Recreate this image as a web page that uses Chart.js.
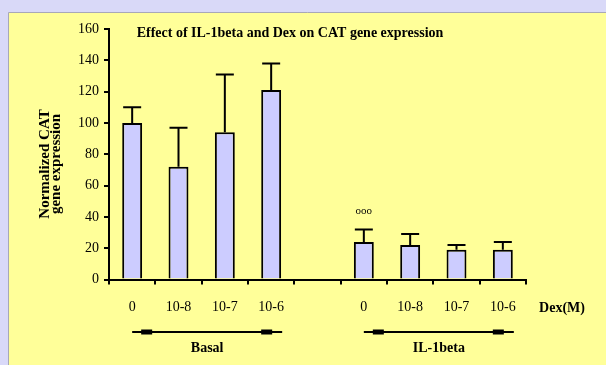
<!DOCTYPE html>
<html>
<head>
<meta charset="utf-8">
<script src="https://cdn.jsdelivr.net/npm/chart.js@4/dist/chart.umd.min.js"></script>
<style>
  html, body { margin: 0; padding: 0; background: #d9d9f8; }
  #wrap { width: 606px; height: 365px; }
</style>
</head>
<body>
<div id="wrap"><canvas id="myChart" width="606" height="365"></canvas></div>
<script>
// data
var doses = ["0", "10-8", "10-7", "10-6", "", "0", "10-8", "10-7", "10-6"];
var means = [100, 72, 94, 121, null, 24, 22, 19, 19];
var errUp = [110, 97, 131, 138, null, 32, 29, 22, 24];
var yTicks = [0, 20, 40, 60, 80, 100, 120, 140, 160];
var groups = [
  { label: "Basal", from: 0, to: 3 },
  { label: "IL-1beta", from: 5, to: 8 }
];

var serif = "'Liberation Serif', 'DejaVu Serif', serif";

// yellow panel behind everything
var panel = {
  id: "panel",
  beforeDraw: function (chart) {
    var ctx = chart.ctx;
    ctx.save();
    ctx.fillStyle = "#d9d9f8";
    ctx.fillRect(0, 0, chart.width, chart.height);
    ctx.fillStyle = "#ffff99";
    ctx.fillRect(9, 12, chart.width - 9, chart.height - 12);
    ctx.strokeStyle = "#a8a8b8";
    ctx.lineWidth = 1;
    ctx.beginPath();
    ctx.moveTo(8.5, chart.height);
    ctx.lineTo(8.5, 12.5);
    ctx.lineTo(chart.width, 12.5);
    ctx.stroke();
    ctx.restore();
  }
};

// error bars, annotations, brackets
var extras = {
  id: "extras",
  afterDatasetsDraw: function (chart) {
    var ctx = chart.ctx;
    var x = chart.scales.x, y = chart.scales.y;
    ctx.save();
    ctx.strokeStyle = "#000";
    ctx.lineWidth = 2;
    for (var i = 0; i < means.length; i++) {
      if (means[i] == null) continue;
      var cx = x.getPixelForValue(i);
      var y0 = y.getPixelForValue(means[i]);
      var y1 = y.getPixelForValue(errUp[i]);
      ctx.beginPath();
      ctx.moveTo(cx, y0);
      ctx.lineTo(cx, y1);
      ctx.moveTo(cx - 9, y1);
      ctx.lineTo(cx + 9, y1);
      ctx.stroke();
    }

    ctx.fillStyle = "#000";
    ctx.textAlign = "center";
    ctx.textBaseline = "middle";

    // title
    ctx.font = "bold 14px " + serif;
    ctx.fillText("Effect of IL-1beta and Dex on CAT gene expression", 290, 33);

    // y title
    ctx.save();
    ctx.translate(50, 164);
    ctx.rotate(-Math.PI / 2);
    ctx.font = "bold 15px " + serif;
    ctx.fillText("Normalized CAT", 0, -5);
    ctx.fillText("gene expression", 0, 6);
    ctx.restore();

    // significance mark
    ctx.font = "11px " + serif;
    ctx.fillText("ooo", x.getPixelForValue(5), 211);

    ctx.font = "bold 14px " + serif;
    ctx.fillText("Dex(M)", 562, 308);

    // group brackets
    groups.forEach(function (g) {
      var a = x.getPixelForValue(g.from);
      var b = x.getPixelForValue(g.to) + 11;
      var ly = 332;
      ctx.lineWidth = 2;
      ctx.beginPath();
      ctx.moveTo(a, ly);
      ctx.lineTo(b, ly);
      ctx.stroke();
      ctx.fillRect(a + 9, ly - 2.5, 11, 5);
      ctx.fillRect(b - 21, ly - 2.5, 11, 5);
      ctx.font = "bold 14px " + serif;
      ctx.fillText(g.label, (a + b) / 2, 348);
    });
    ctx.restore();
  }
};

var ctx = document.getElementById("myChart").getContext("2d");
var chart = new Chart(ctx, {
  type: "bar",
  data: {
    labels: doses,
    datasets: [
      {
        data: means,
        backgroundColor: "#ccccff",
        borderColor: "#000",
        borderWidth: 2,
        borderSkipped: "bottom",
        barPercentage: 0.43,
        categoryPercentage: 1
      }
    ]
  },
  options: {
    responsive: false,
    animation: false,
    layout: { padding: { left: 0, right: 80, top: 29, bottom: 0 } },
    plugins: {
      legend: { display: false },
      tooltip: { enabled: false }
    },
    scales: {
      x: {
        grid: { drawOnChartArea: false, drawTicks: true, tickLength: 5, color: "#000", lineWidth: 2, offset: true },
        border: { color: "#000", width: 2 },
        ticks: { color: "#000", padding: 14, font: { family: serif, size: 14 }, maxRotation: 0, autoSkip: false },
        afterFit: function (s) { s.height = 85.5; }
      },
      y: {
        min: 0,
        max: 160,
        afterBuildTicks: function (s) { s.ticks = yTicks.map(function (v) { return { value: v }; }); },
        grid: { drawOnChartArea: false, drawTicks: true, tickLength: 5, color: "#000", lineWidth: 2 },
        border: { color: "#000", width: 2 },
        ticks: { color: "#000", padding: 5, font: { family: serif, size: 14 } },
        afterFit: function (s) { s.width = 109; }
      }
    }
  },
  plugins: [panel, extras]
});
</script>
</body>
</html>
